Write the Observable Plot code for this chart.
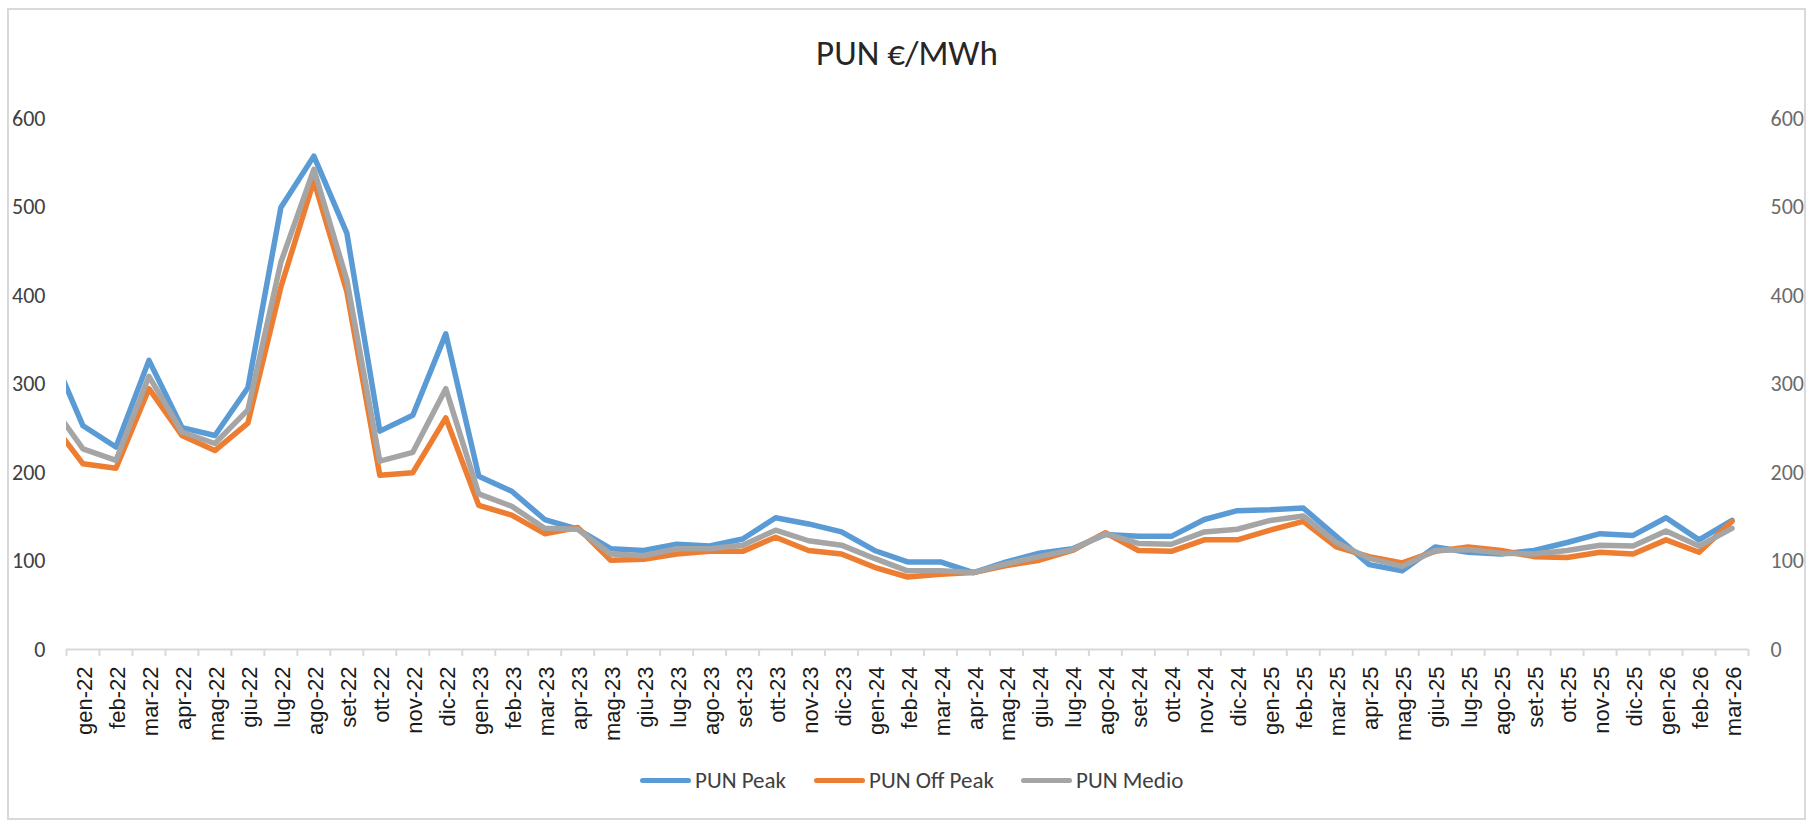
<!DOCTYPE html>
<html>
<head>
<meta charset="utf-8">
<script src="https://cdn.jsdelivr.net/npm/d3@7"></script>
<script src="https://cdn.jsdelivr.net/npm/@observablehq/plot@0.6"></script>
<style>
  html, body { margin: 0; padding: 0; background: #fff; }
  #page { position: relative; width: 1806px; height: 821px; overflow: hidden; background: #fff; }
  #frame { position: absolute; left: 7px; top: 8px; width: 1795px; height: 808px; border: 2px solid #d9d9d9; box-sizing: content-box; }
  #title { position: absolute; left: 0; top: 36px; width: 1814px; text-align: center; font-family: Carlito, Calibri, Lato, sans-serif; font-size: 35px; line-height: 35px; color: #262626; }
  #chart { position: absolute; left: 0; top: 100px; }
  .leg { position: absolute; top: 768px; height: 24px; display: flex; align-items: center; font-family: Carlito, Calibri, Lato, sans-serif; font-size: 23px; line-height: 24px; color: #404040; white-space: nowrap; }
  .sw { width: 51px; height: 5px; border-radius: 3px; margin-right: 4px; }
</style>
</head>
<body>
<div id="page">
  <div id="frame"></div>
  <div id="title">PUN €/MWh</div>
  <div id="chart"></div>
  <div id="legend"></div>
</div>
<script>
// Months shown on the category axis (gen-22 … mar-26)
const months = ["gen-22","feb-22","mar-22","apr-22","mag-22","giu-22","lug-22","ago-22","set-22","ott-22","nov-22","dic-22",
  "gen-23","feb-23","mar-23","apr-23","mag-23","giu-23","lug-23","ago-23","set-23","ott-23","nov-23","dic-23",
  "gen-24","feb-24","mar-24","apr-24","mag-24","giu-24","lug-24","ago-24","set-24","ott-24","nov-24","dic-24",
  "gen-25","feb-25","mar-25","apr-25","mag-25","giu-25","lug-25","ago-25","set-25","ott-25","nov-25","dic-25",
  "gen-26","feb-26","mar-26"];

// Previous month (dic-21): only its segment toward gen-22 is visible, clipped at the plot edge
const prevMonth = "dic-21";
const prevPeak = 340, prevOffPeak = 259, prevMedio = 279;

// Series values (€/MWh)
const peak = [253,229,327,251,242,296,500,558,471,247,265,357,
  196,179,147,136,114,112,119,117,125,149,142,133,
  112,99,99,87,99,109,114,130,128,128,147,157,
  158,160,128,96,89,116,110,108,112,121,131,129,
  149,124,146];
const offPeak = [210,205,295,242,225,256,410,530,405,197,200,262,
  163,152,131,138,101,102,108,111,111,127,112,108,
  93,82,85,87,95,101,112,132,112,111,124,124,
  135,145,116,105,98,111,116,112,105,104,110,108,
  124,110,145];
const medio = [227,214,309,246,233,271,438,543,418,213,223,295,
  176,162,137,136,108,106,114,114,118,135,123,118,
  103,89,89,87,97,105,113,131,120,119,133,136,
  146,151,121,103,94,112,113,109,108,112,118,117,
  134,117,137];

const seriesNames = ["PUN Peak", "PUN Off Peak", "PUN Medio"];
const seriesColors = ["#5B9BD5", "#ED7D31", "#A5A5A5"];
const yTicks = [0, 100, 200, 300, 400, 500, 600];

// Build a long table: index -1 is the clipped previous month
const allSeries = [[prevPeak, ...peak], [prevOffPeak, ...offPeak], [prevMedio, ...medio]];
const rows = [];
allSeries.forEach((vals, s) => {
  vals.forEach((v, k) => rows.push({ i: k - 1, value: v, series: seriesNames[s] }));
});
const catIdx = months.map((m, i) => i);
const boundaries = d3.range(months.length + 1).map(k => k - 0.5);

const chart = Plot.plot({
  width: 1806,
  height: 660,
  marginLeft: 66,
  marginRight: 58,
  marginTop: 18.5,
  marginBottom: 111,
  style: { background: "transparent", overflow: "visible" },
  x: { type: "linear", domain: [-0.5, months.length - 0.5], axis: null },
  y: { domain: [0, 600], axis: null },
  color: { domain: seriesNames, range: seriesColors },
  marks: [
    // category axis line and boundary ticks
    Plot.ruleY([0], { stroke: "#d9d9d9", strokeWidth: 2 }),
    Plot.axisX({ ticks: boundaries, tickSize: 7, tickFormat: () => "", stroke: "#d9d9d9", strokeWidth: 2, label: null }),
    // category labels
    Plot.text(catIdx, {
      x: d => d, frameAnchor: "bottom", text: d => months[d],
      rotate: -90, textAnchor: "end", lineAnchor: "middle", dy: 17, dx: 2,
      fontFamily: "Liberation Sans, Arial, sans-serif", fontSize: 22, fill: "#1a1a1a"
    }),
    // left value labels
    Plot.text(yTicks, {
      y: d => d, frameAnchor: "left", text: d => String(d), textAnchor: "end", dx: -21,
      fontFamily: "Carlito, Calibri, Lato, sans-serif", fontSize: 22, fill: "#404040"
    }),
    // right value labels
    Plot.text(yTicks, {
      y: d => d, frameAnchor: "right", text: d => String(d), textAnchor: "start", dx: 22,
      fontFamily: "Carlito, Calibri, Lato, sans-serif", fontSize: 22, fill: "#6b6b6b"
    }),
    // series lines
    Plot.line(rows, {
      x: "i", y: "value", z: "series", stroke: "series",
      strokeWidth: 5.5, strokeLinejoin: "round", strokeLinecap: "round", clip: true
    })
  ]
});
document.getElementById("chart").appendChild(chart);

// Legend
const legendLeft = [640, 814, 1021];
const legend = document.getElementById("legend");
seriesNames.forEach((name, s) => {
  const item = document.createElement("div");
  item.className = "leg";
  item.style.left = legendLeft[s] + "px";
  const sw = document.createElement("div");
  sw.className = "sw";
  sw.style.background = seriesColors[s];
  const tx = document.createElement("span");
  tx.textContent = name;
  item.appendChild(sw);
  item.appendChild(tx);
  legend.appendChild(item);
});
</script>
</body>
</html>
